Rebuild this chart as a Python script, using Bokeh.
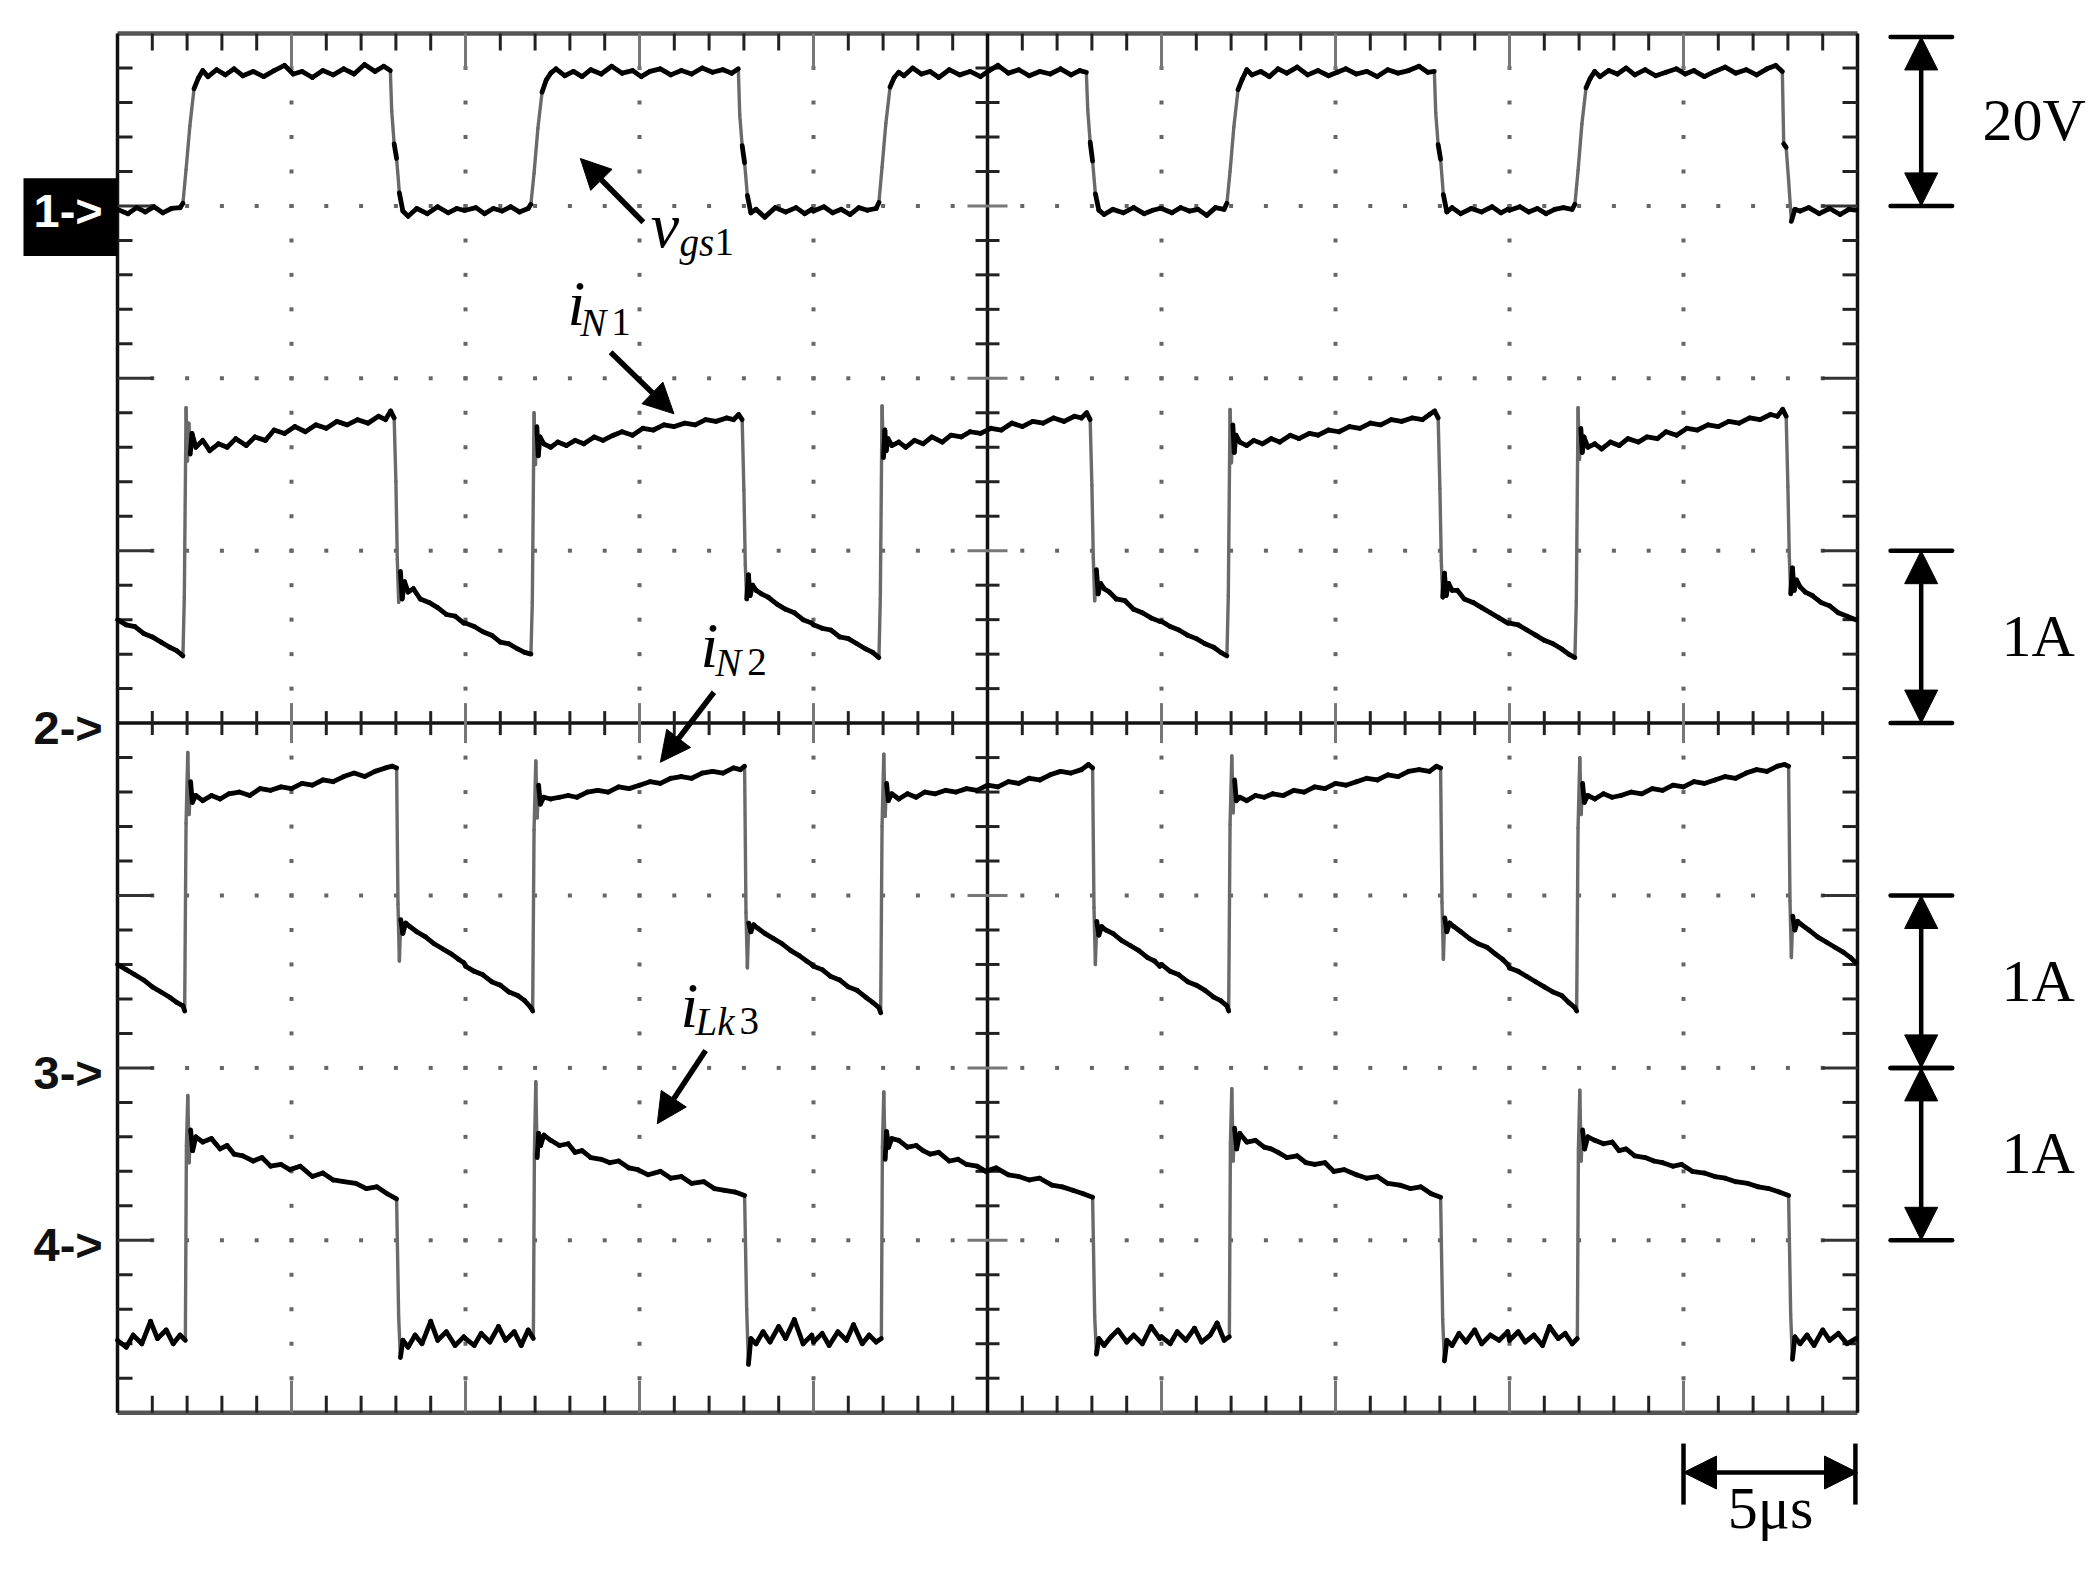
import numpy as np
from bokeh.plotting import figure
from bokeh.models import Range1d, Arrow, NormalHead, ColumnDataSource
from bokeh.embed import file_html
from bokeh.resources import INLINE
from bokeh.core.properties import value

# ---------------------------------------------------------------- data
US_PER_DIV = 5.0            # time base
VGS1_V_PER_DIV = 20.0       # channel 1
AMP_PER_DIV = 1.0           # channels 2..4
N_XDIV, N_YDIV = 10, 8
CYCLE_START_US = [0.0, 10.0, 20.0, 30.0, 40.0]

CHANNEL_MARKS = ["1->", "2->", "3->", "4->"]
CHANNEL_REF_DIV = [3.0, 0.0, -2.0, -3.0]
SCALE_TEXT = ["20V", "1A", "1A", "1A"]
TIME_SCALE_TEXT = "5\u03bcs"

# v_gs1 (V) - time template within one 10 us period, values per period
VGS1_T = [0.00, 0.30, 0.55, 0.80, 1.05, 1.30, 1.55, 1.80,
          1.88, 1.97, 2.08, 2.20, 2.32,
          2.45, 2.60, 2.85, 3.10, 3.35, 3.60, 3.90, 4.20, 4.50, 4.80, 5.05,
          5.30, 5.60, 5.90, 6.20, 6.50, 6.80, 7.10, 7.40, 7.65, 7.84,
          7.88, 7.95, 8.02, 8.10, 8.20,
          8.35, 8.60, 8.90, 9.20, 9.50, 9.75, 9.95]
VGS1_V = [
    [-0.4, -0.9, -0.2, -0.7, -0.1, -0.8, -0.3, -0.2,
     0.3, 4.2, 9.3, 13.6, 14.8,
     15.7, 15.0, 15.8, 15.2, 15.9, 15.1, 15.6, 15.0, 15.7, 16.3, 15.3,
     15.6, 14.9, 15.7, 15.2, 15.9, 15.3, 16.4, 15.6, 16.2, 15.7,
     11.0, 7.2, 5.5, 1.5, -0.6,
     -1.2, -0.3, -0.9, -0.1, -0.8, -0.3, -0.5],
    [-0.5, -0.2, -0.9, -0.3, -0.6, -0.1, -0.7, -0.3,
     0.2, 3.8, 9.0, 13.2, 14.6,
     15.4, 15.9, 15.1, 15.6, 15.0, 15.8, 15.3, 16.2, 15.4, 15.7, 15.0,
     15.6, 15.9, 15.2, 15.7, 15.3, 16.0, 15.5, 15.8, 15.4, 15.9,
     10.6, 7.0, 5.0, 1.2, -0.8,
     -0.4, -1.3, -0.2, -0.7, -0.2, -0.9, -0.4],
    [-0.6, -0.1, -0.8, -0.4, -1.0, -0.2, -0.5, -0.3,
     0.4, 4.5, 9.6, 13.8, 14.9,
     15.5, 15.1, 16.0, 15.3, 15.6, 14.9, 15.8, 15.2, 15.6, 15.0, 15.7,
     16.3, 15.4, 15.8, 15.1, 15.6, 15.3, 15.9, 15.2, 15.7, 15.5,
     11.2, 7.4, 5.2, 1.4, -0.5,
     -1.0, -0.4, -0.8, -0.2, -0.9, -0.5, -0.3],
    [-0.3, -0.8, -0.2, -0.6, -0.4, -1.1, -0.2, -0.4,
     0.3, 4.0, 9.2, 13.5, 14.7,
     15.8, 15.2, 15.6, 15.0, 15.9, 15.4, 16.1, 15.2, 15.7, 15.1, 15.5,
     15.9, 15.3, 15.6, 15.0, 15.8, 15.4, 15.7, 16.2, 15.5, 15.6,
     10.8, 7.1, 5.4, 1.3, -0.7,
     -0.2, -0.9, -0.3, -0.7, -0.1, -0.8, -0.4],
    [-0.5, -0.1, -0.7, -0.3, -0.9, -0.4, -0.2, -0.4,
     0.2, 4.1, 9.5, 13.7, 14.8,
     15.6, 15.0, 15.7, 15.3, 16.0, 15.2, 15.8, 15.1, 15.5, 15.9, 15.3,
     15.7, 15.0, 15.6, 16.1, 15.4, 15.8, 15.2, 15.9, 16.3, 15.6,
     7.2, 6.8, 3.0, -1.8, -0.4,
     -0.6, -0.2, -0.9, -0.3, -1.0, -0.4, -0.5],
]

# i_N1 (A)
IN1_T = [0.00, 0.25, 0.50, 0.75, 1.00, 1.25, 1.50, 1.70, 1.88,
         1.92, 1.97, 2.01, 2.05, 2.09, 2.14,
         2.25, 2.45, 2.65, 2.90, 3.15, 3.40, 3.70, 3.95, 4.25, 4.50, 4.80, 5.10,
         5.40, 5.70, 6.00, 6.30, 6.60, 6.90, 7.20, 7.50, 7.70, 7.85, 7.95,
         8.00, 8.04, 8.08, 8.13, 8.18, 8.25,
         8.35, 8.50, 8.70, 8.95, 9.20, 9.45, 9.70, 9.95]
IN1_A = [
    [0.60, 0.57, 0.56, 0.52, 0.50, 0.47, 0.44, 0.42, 0.39,
     0.73, 1.83, 1.52, 1.74, 1.56, 1.68,
     1.60, 1.64, 1.58, 1.62, 1.60, 1.65, 1.61, 1.66, 1.64, 1.70, 1.68, 1.72,
     1.69, 1.73, 1.71, 1.75, 1.73, 1.76, 1.74, 1.78, 1.76, 1.81, 1.77,
     1.40, 0.95, 0.70, 0.88, 0.72, 0.82,
     0.76, 0.78, 0.72, 0.70, 0.67, 0.63, 0.62, 0.58],
    [0.58, 0.56, 0.53, 0.51, 0.47, 0.46, 0.43, 0.41, 0.40,
     0.70, 1.80, 1.50, 1.72, 1.55, 1.66,
     1.62, 1.60, 1.63, 1.61, 1.64, 1.62, 1.66, 1.64, 1.67, 1.69, 1.67, 1.71,
     1.70, 1.73, 1.72, 1.74, 1.73, 1.76, 1.75, 1.77, 1.76, 1.79, 1.76,
     1.35, 0.92, 0.72, 0.86, 0.74, 0.80,
     0.77, 0.75, 0.73, 0.69, 0.66, 0.64, 0.60, 0.58],
    [0.57, 0.55, 0.54, 0.50, 0.49, 0.46, 0.43, 0.41, 0.38,
     0.72, 1.84, 1.54, 1.70, 1.58, 1.65,
     1.61, 1.63, 1.60, 1.64, 1.62, 1.66, 1.63, 1.67, 1.66, 1.69, 1.68, 1.71,
     1.70, 1.74, 1.72, 1.75, 1.74, 1.77, 1.75, 1.78, 1.77, 1.80, 1.76,
     1.38, 0.96, 0.71, 0.89, 0.75, 0.81,
     0.78, 0.76, 0.72, 0.71, 0.66, 0.64, 0.61, 0.59],
    [0.59, 0.56, 0.54, 0.51, 0.49, 0.46, 0.44, 0.41, 0.39,
     0.74, 1.82, 1.51, 1.73, 1.57, 1.67,
     1.63, 1.61, 1.64, 1.62, 1.65, 1.63, 1.67, 1.65, 1.68, 1.67, 1.70, 1.69,
     1.72, 1.71, 1.74, 1.73, 1.76, 1.75, 1.77, 1.76, 1.79, 1.81, 1.77,
     1.36, 0.94, 0.73, 0.87, 0.74, 0.81,
     0.77, 0.77, 0.72, 0.70, 0.67, 0.64, 0.61, 0.58],
    [0.58, 0.57, 0.54, 0.51, 0.48, 0.46, 0.43, 0.40, 0.38,
     0.71, 1.83, 1.53, 1.71, 1.57, 1.66,
     1.60, 1.62, 1.59, 1.63, 1.61, 1.65, 1.63, 1.66, 1.65, 1.69, 1.67, 1.71,
     1.70, 1.73, 1.72, 1.75, 1.74, 1.77, 1.76, 1.79, 1.78, 1.82, 1.78,
     1.37, 0.97, 0.75, 0.90, 0.77, 0.83,
     0.79, 0.76, 0.74, 0.70, 0.68, 0.64, 0.62, 0.60],
]

# i_N2 (A)
IN2_T = [0.00, 0.25, 0.50, 0.75, 1.00, 1.25, 1.50, 1.70, 1.88, 1.93,
         1.97, 2.02, 2.06, 2.10, 2.15,
         2.25, 2.45, 2.70, 2.95, 3.20, 3.50, 3.80, 4.10, 4.40, 4.70, 5.00,
         5.30, 5.60, 5.90, 6.20, 6.50, 6.80, 7.10, 7.40, 7.70, 7.90, 8.02,
         8.06, 8.10, 8.14, 8.20, 8.28,
         8.40, 8.60, 8.85, 9.10, 9.35, 9.60, 9.80, 9.95]
IN2_A = [
    [0.60, 0.57, 0.54, 0.51, 0.47, 0.44, 0.41, 0.38, 0.36, 0.33,
     1.42, 1.83, 1.47, 1.66, 1.54,
     1.58, 1.55, 1.58, 1.56, 1.59, 1.60, 1.58, 1.62, 1.61, 1.63, 1.62,
     1.65, 1.64, 1.67, 1.66, 1.69, 1.71, 1.69, 1.72, 1.74, 1.75, 1.74,
     0.95, 0.62, 0.86, 0.78, 0.84,
     0.82, 0.79, 0.76, 0.72, 0.69, 0.66, 0.63, 0.61],
    [0.59, 0.56, 0.54, 0.50, 0.48, 0.44, 0.42, 0.39, 0.35, 0.33,
     1.38, 1.78, 1.45, 1.64, 1.53,
     1.57, 1.56, 1.57, 1.58, 1.57, 1.60, 1.61, 1.60, 1.63, 1.62, 1.64,
     1.66, 1.65, 1.68, 1.69, 1.68, 1.71, 1.72, 1.71, 1.74, 1.73, 1.75,
     0.90, 0.58, 0.84, 0.79, 0.83,
     0.81, 0.78, 0.75, 0.72, 0.68, 0.65, 0.62, 0.60],
    [0.59, 0.57, 0.53, 0.51, 0.47, 0.45, 0.41, 0.38, 0.35, 0.32,
     1.40, 1.82, 1.46, 1.65, 1.55,
     1.59, 1.56, 1.59, 1.57, 1.60, 1.59, 1.61, 1.60, 1.62, 1.61, 1.64,
     1.63, 1.66, 1.65, 1.68, 1.67, 1.70, 1.72, 1.71, 1.73, 1.76, 1.74,
     0.93, 0.60, 0.85, 0.77, 0.82,
     0.80, 0.78, 0.74, 0.71, 0.68, 0.64, 0.62, 0.59],
    [0.60, 0.56, 0.54, 0.50, 0.48, 0.45, 0.41, 0.39, 0.36, 0.33,
     1.41, 1.81, 1.48, 1.67, 1.55,
     1.57, 1.55, 1.58, 1.57, 1.59, 1.58, 1.61, 1.60, 1.63, 1.62, 1.65,
     1.64, 1.66, 1.68, 1.67, 1.70, 1.69, 1.72, 1.73, 1.72, 1.75, 1.74,
     0.96, 0.63, 0.87, 0.79, 0.84,
     0.82, 0.79, 0.75, 0.72, 0.70, 0.66, 0.63, 0.60],
    [0.58, 0.56, 0.53, 0.50, 0.47, 0.44, 0.42, 0.38, 0.35, 0.33,
     1.39, 1.80, 1.47, 1.65, 1.54,
     1.58, 1.56, 1.59, 1.57, 1.58, 1.60, 1.59, 1.62, 1.61, 1.64, 1.63,
     1.66, 1.65, 1.67, 1.69, 1.68, 1.71, 1.73, 1.72, 1.75, 1.76, 1.75,
     0.97, 0.64, 0.88, 0.80, 0.85,
     0.83, 0.80, 0.76, 0.73, 0.70, 0.67, 0.64, 0.61],
]

# i_Lk3 (A)
ILK3_T = [0.00, 0.25, 0.45, 0.70, 0.95, 1.15, 1.40, 1.60, 1.80, 1.95,
          1.98, 2.02, 2.06, 2.10, 2.16,
          2.25, 2.45, 2.70, 2.95, 3.15, 3.35, 3.60, 3.90, 4.15, 4.40, 4.70,
          4.95, 5.25, 5.60, 5.90, 6.20, 6.50, 6.85, 7.15, 7.45, 7.75, 8.02,
          8.08, 8.13, 8.20,
          8.35, 8.55, 8.75, 9.00, 9.20, 9.45, 9.70, 9.95]
ILK3_A = [
    [-0.58, -0.62, -0.55, -0.60, -0.47, -0.57, -0.52, -0.60, -0.55, -0.58,
     0.55, 0.84, 0.45, 0.64, 0.52,
     0.60, 0.57, 0.59, 0.53, 0.55, 0.50, 0.49, 0.46, 0.48, 0.43, 0.44,
     0.41, 0.43, 0.37, 0.39, 0.35, 0.34, 0.33, 0.30, 0.31, 0.27, 0.24,
     -0.45, -0.68, -0.58,
     -0.62, -0.55, -0.60, -0.47, -0.58, -0.53, -0.61, -0.56],
    [-0.57, -0.61, -0.54, -0.59, -0.50, -0.58, -0.53, -0.61, -0.52, -0.57,
     0.50, 0.92, 0.48, 0.62, 0.55,
     0.61, 0.58, 0.55, 0.56, 0.51, 0.52, 0.48, 0.47, 0.45, 0.46, 0.42,
     0.41, 0.38, 0.40, 0.36, 0.37, 0.33, 0.34, 0.30, 0.29, 0.28, 0.26,
     -0.40, -0.72, -0.57,
     -0.60, -0.53, -0.59, -0.50, -0.57, -0.46, -0.60, -0.55],
    [-0.59, -0.54, -0.61, -0.53, -0.58, -0.49, -0.60, -0.55, -0.59, -0.57,
     0.54, 0.86, 0.47, 0.63, 0.54,
     0.59, 0.58, 0.54, 0.55, 0.52, 0.50, 0.51, 0.46, 0.47, 0.44, 0.43,
     0.40, 0.42, 0.38, 0.37, 0.35, 0.36, 0.32, 0.31, 0.29, 0.27, 0.25,
     -0.44, -0.66, -0.57,
     -0.61, -0.56, -0.52, -0.59, -0.55, -0.60, -0.50, -0.57],
    [-0.56, -0.60, -0.53, -0.58, -0.51, -0.59, -0.55, -0.48, -0.58, -0.56,
     0.56, 0.88, 0.46, 0.65, 0.53,
     0.62, 0.57, 0.58, 0.54, 0.53, 0.51, 0.48, 0.49, 0.45, 0.44, 0.45,
     0.40, 0.41, 0.38, 0.36, 0.37, 0.33, 0.32, 0.30, 0.31, 0.27, 0.25,
     -0.46, -0.70, -0.58,
     -0.61, -0.54, -0.59, -0.52, -0.60, -0.55, -0.58, -0.53],
    [-0.58, -0.53, -0.59, -0.55, -0.61, -0.50, -0.57, -0.54, -0.60, -0.57,
     0.53, 0.87, 0.46, 0.64, 0.53,
     0.60, 0.58, 0.56, 0.57, 0.52, 0.53, 0.49, 0.48, 0.46, 0.45, 0.43,
     0.44, 0.40, 0.39, 0.37, 0.36, 0.34, 0.33, 0.31, 0.30, 0.28, 0.26,
     -0.43, -0.69, -0.56,
     -0.60, -0.55, -0.61, -0.52, -0.58, -0.54, -0.60, -0.57],
]

# ---------------------------------------------------------------- geometry
W, H = 2090, 1562
PX_X = 34.8      # px per microsecond
PX_Y = 172.4     # px per division
LEFT_PX = 117.0  # canvas px from left edge to t = 0
ZERO_PX = 722.6  # canvas px from top edge to centre line

X_MAX = N_XDIV * US_PER_DIV
Y_MAX = N_YDIV / 2

p = figure(width=W, height=H, output_backend="svg", toolbar_location=None,
           x_range=Range1d(-LEFT_PX / PX_X, (W - LEFT_PX) / PX_X),
           y_range=Range1d(-(H - ZERO_PX) / PX_Y, ZERO_PX / PX_Y),
           x_axis_location=None, y_axis_location=None, min_border=0)
p.grid.visible = False
p.outline_line_color = None
p.background_fill_color = "white"
p.border_fill_color = "white"


def hx(px):
    return px / PX_X


def hy(px):
    return px / PX_Y


TEXT_DY = hy(20)   # compensates the renderer's baseline placement

x_minor = [float(i) for i in range(1, int(X_MAX)) if i % int(US_PER_DIV)]
x_major = [i * US_PER_DIV for i in range(1, N_XDIV) if i != N_XDIV // 2]
y_minor = [round(-Y_MAX + 0.2 * k, 3) for k in range(1, N_YDIV * 5) if k % 5]
y_major = [float(k) for k in range(-int(Y_MAX) + 1, int(Y_MAX)) if k != 0]

# dotted graticule
dots_x = [x for x in x_major for _ in y_minor + y_major]
dots_y = [y for _ in x_major for y in y_minor + y_major]
dots_x += [x for _ in y_major for x in x_minor + x_major]
dots_y += [y for y in y_major for _ in x_minor + x_major]
p.scatter(dots_x, dots_y, marker="square", size=4, fill_color="#666666",
          line_color=None)

# border
p.segment(x0=[0, 0], y0=[Y_MAX, -Y_MAX], x1=[X_MAX, X_MAX], y1=[Y_MAX, -Y_MAX],
          line_color="#555555", line_width=4.5)
p.segment(x0=[0, X_MAX], y0=[-Y_MAX, -Y_MAX], x1=[0, X_MAX], y1=[Y_MAX, Y_MAX],
          line_color="#111111", line_width=3.5)


def ticks_h(xs, y, length_px, direction, color, width):
    p.segment(x0=xs, y0=[y] * len(xs), x1=xs,
              y1=[y + direction * hy(length_px)] * len(xs),
              line_color=color, line_width=width)


def ticks_v(ys, x, length_px, direction, color, width):
    p.segment(x0=[x] * len(ys), y0=ys, x1=[x + direction * hx(length_px)] * len(ys),
              y1=ys, line_color=color, line_width=width)


ticks_h(x_minor, Y_MAX, 17, -1, "#222222", 3)
ticks_h(x_minor, -Y_MAX, 17, 1, "#222222", 3)
ticks_h(x_major, Y_MAX, 36, -1, "#777777", 3)
ticks_h(x_major, -Y_MAX, 32, 1, "#777777", 3)
ticks_v(y_minor, 0, 15, 1, "#222222", 3)
ticks_v(y_minor, X_MAX, 15, -1, "#222222", 3)
ticks_v(y_major, 0, 36, 1, "#333333", 3)
ticks_v(y_major, X_MAX, 36, -1, "#333333", 3)

# centre cross with ticks on both sides
XC = X_MAX / 2
p.segment(x0=[XC, 0], y0=[-Y_MAX, 0], x1=[XC, X_MAX], y1=[Y_MAX, 0],
          line_color="#111111", line_width=3.5)
p.segment(x0=[XC - hx(12)] * len(y_minor), y0=y_minor,
          x1=[XC + hx(12)] * len(y_minor), y1=y_minor, line_color="#222222", line_width=3)
p.segment(x0=[XC - hx(20)] * len(y_major), y0=y_major,
          x1=[XC + hx(20)] * len(y_major), y1=y_major, line_color="#777777", line_width=3)
p.segment(x0=x_minor, y0=[-hy(12)] * len(x_minor),
          x1=x_minor, y1=[hy(12)] * len(x_minor), line_color="#222222", line_width=3)
p.segment(x0=x_major, y0=[-hy(20)] * len(x_major),
          x1=x_major, y1=[hy(20)] * len(x_major), line_color="#777777", line_width=3)


# traces
def add_trace(t_tpl, cycles, ref, per_div):
    xs, ys = [], []
    for start, vals in zip(CYCLE_START_US, cycles):
        assert len(vals) == len(t_tpl), (len(vals), len(t_tpl))
        xs += [start + t for t in t_tpl]
        ys += [ref + v / per_div for v in vals]
    xs, ys = np.array(xs), np.array(ys)
    x0, x1, y0, y1 = xs[:-1], xs[1:], ys[:-1], ys[1:]
    dxp = np.abs(x1 - x0) * PX_X
    dyp = np.abs(y1 - y0) * PX_Y
    steep = (dyp > 30) & (dyp > 2.5 * dxp)
    for mask, col, wid in ((steep, "#6a6a6a", 3.4), (~steep, "#000000", 4.8)):
        src = ColumnDataSource(dict(x0=x0[mask], y0=y0[mask], x1=x1[mask], y1=y1[mask]))
        p.segment("x0", "y0", "x1", "y1", source=src, line_color=col,
                  line_width=wid, line_cap="round")


add_trace(VGS1_T, VGS1_V, CHANNEL_REF_DIV[0], VGS1_V_PER_DIV)
add_trace(IN1_T, IN1_A, CHANNEL_REF_DIV[1], AMP_PER_DIV)
add_trace(IN2_T, IN2_A, CHANNEL_REF_DIV[2], AMP_PER_DIV)
add_trace(ILK3_T, ILK3_A, CHANNEL_REF_DIV[3], AMP_PER_DIV)

# channel markers at left
MARK_X = -hx(84)
p.quad(left=[-hx(94)], right=[0], top=[CHANNEL_REF_DIV[0] + 0.16],
       bottom=[CHANNEL_REF_DIV[0] - 0.29], fill_color="black", line_color=None)
for i, (m, r) in enumerate(zip(CHANNEL_MARKS, CHANNEL_REF_DIV)):
    p.text(x=[MARK_X], y=[r - 0.14 + TEXT_DY], text=[m],
           text_font=value("Liberation Sans"),
           text_font_style="bold", text_font_size="47px",
           text_color="white" if i == 0 else "#111111",
           text_baseline="alphabetic", text_align="left")

# scale bars on the right
BAR_X = 51.83
for txt, r in zip(SCALE_TEXT, CHANNEL_REF_DIV):
    lo, hi = r, r + 1.0
    if txt == "20V":
        hi = r + 0.98
    p.add_layout(Arrow(x_start=BAR_X, y_start=lo, x_end=BAR_X, y_end=hi,
                       start=NormalHead(size=33, fill_color="black", line_color="black"),
                       end=NormalHead(size=33, fill_color="black", line_color="black"),
                       line_width=4.5, line_color="black"))
    p.segment(x0=[50.95, 50.95], y0=[lo, hi], x1=[52.72, 52.72], y1=[lo, hi],
              line_color="black", line_width=4.5, line_cap="round")
    tx = 53.59 if txt == "20V" else 54.14
    p.text(x=[tx], y=[(lo + hi) / 2 - 0.11 + TEXT_DY], text=[txt],
           text_font=value("Liberation Serif"), text_font_size="60px",
           text_color="black", text_baseline="alphabetic", text_align="left")

# time scale bar
TB_Y = -4.347
p.add_layout(Arrow(x_start=X_MAX - US_PER_DIV, y_start=TB_Y, x_end=X_MAX, y_end=TB_Y,
                   start=NormalHead(size=33, fill_color="black", line_color="black"),
                   end=NormalHead(size=33, fill_color="black", line_color="black"),
                   line_width=4.5, line_color="black"))
p.segment(x0=[X_MAX - US_PER_DIV, X_MAX - 0.06], y0=[-4.179, -4.179],
          x1=[X_MAX - US_PER_DIV, X_MAX - 0.06], y1=[-4.533, -4.533],
          line_color="black", line_width=4.5)
p.text(x=[X_MAX - US_PER_DIV / 2], y=[-4.671 + TEXT_DY], text=[TIME_SCALE_TEXT],
       text_font=value("Liberation Serif"), text_font_size="60px",
       text_color="black", text_baseline="alphabetic", text_align="center")

# trace labels with pointer arrows
LABELS = [
    # main letter, x, baseline, subscript(italic), sub x, sub baseline, digit, digit offset px
    ("v", 15.32, 2.771, "gs", 16.15, 2.673, "1", 35),
    ("i", 12.93, 2.318, "N", 13.30, 2.208, "1", 31),
    ("i", 16.75, 0.334, "N", 17.18, 0.236, "2", 32),
    ("i", 16.18, -1.753, "Lk", 16.61, -1.845, "3", 44),
]
for main, mx, my, sub, sx, sy, dig, doff in LABELS:
    p.text(x=[mx], y=[my + TEXT_DY], text=[main], text_font=value("Liberation Serif"),
           text_font_style="italic", text_font_size="64px", text_color="black",
           text_baseline="alphabetic", text_align="left")
    p.text(x=[sx], y=[sy + TEXT_DY], text=[sub], text_font=value("Liberation Serif"),
           text_font_style="italic", text_font_size="39px", text_color="black",
           text_baseline="alphabetic", text_align="left")
    p.text(x=[sx + hx(doff)], y=[sy + TEXT_DY], text=[dig],
           text_font=value("Liberation Serif"),
           text_font_size="39px", text_color="black",
           text_baseline="alphabetic", text_align="left")

POINTERS = [
    (15.11, 2.905, 13.30, 3.275),
    (14.17, 2.151, 15.99, 1.794),
    (17.14, 0.179, 15.60, -0.227),
    (16.90, -1.899, 15.51, -2.324),
]
for x0, y0, x1, y1 in POINTERS:
    p.add_layout(Arrow(x_start=x0, y_start=y0, x_end=x1, y_end=y1,
                       end=NormalHead(size=30, fill_color="black", line_color="black"),
                       line_width=5.5, line_color="black"))

open("out.html", "w").write(file_html(p, INLINE))
